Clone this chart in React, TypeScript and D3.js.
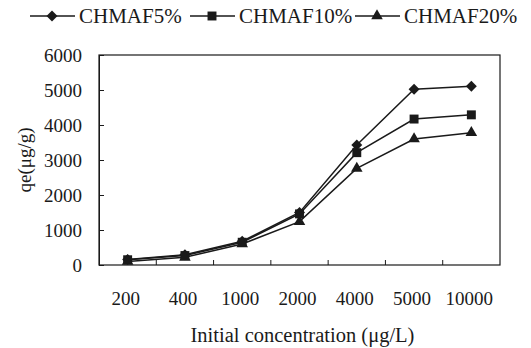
import { useEffect, useRef } from "react"
import * as d3 from "d3"

const categories = ["200", "400", "1000", "2000", "4000", "5000", "10000"]
const chmaf5 = [160, 290, 680, 1500, 3430, 5020, 5110]
const chmaf10 = [150, 270, 650, 1460, 3210, 4170, 4290]
const chmaf20 = [100, 220, 600, 1240, 2760, 3600, 3780]
const seriesNames = ["CHMAF5%", "CHMAF10%", "CHMAF20%"]
const yTicks = [0, 1000, 2000, 3000, 4000, 5000, 6000]

const FONT = "Liberation Serif, DejaVu Serif, serif"

export default function App() {
  const svgRef = useRef<SVGSVGElement>(null)

  useEffect(() => {
    if (!svgRef.current) return
    const svg = d3.select(svgRef.current)
    svg.selectAll("*").remove()

    const margin = { top: 55, right: 31, bottom: 83, left: 99 }
    const width = 531 - margin.left - margin.right
    const height = 348 - margin.top - margin.bottom
    const ink = "#1a1a1a"

    const g = svg.append("g").attr("transform", `translate(${margin.left},${margin.top})`)

    const x = d3.scaleBand().domain(categories).range([0, width])
    const y = d3.scaleLinear().domain([0, 6000]).range([height, 0])

    // 카테고리 경계 눈금
    g.selectAll(".xtick")
      .data(categories.slice(1))
      .enter()
      .append("line")
      .attr("x1", (d) => x(d) as number)
      .attr("x2", (d) => x(d) as number)
      .attr("y1", height)
      .attr("y2", height - 5)
      .attr("stroke", ink)
      .attr("stroke-width", 1)

    g.selectAll(".xlabel")
      .data(categories)
      .enter()
      .append("text")
      .attr("x", (d) => (x(d) as number) + x.bandwidth() / 2 - 2)
      .attr("y", height + 40)
      .attr("text-anchor", "middle")
      .attr("font-family", FONT)
      .attr("font-size", 19)
      .attr("fill", ink)
      .text((d) => d)

    const yAxis = g.append("g").call(
      d3
        .axisLeft(y)
        .tickValues(yTicks)
        .tickFormat(d3.format("d"))
        .tickSize(5)
        .tickSizeOuter(0)
        .tickPadding(12)
    )
    yAxis.attr("font-family", FONT).attr("font-size", 19)
    yAxis.selectAll("line").attr("stroke", ink).attr("transform", "translate(5,0)")
    yAxis.select(".domain").attr("stroke", ink)
    yAxis.selectAll("text").attr("fill", ink).attr("dy", "0.35em")

    // 테두리
    g.append("rect")
      .attr("x", 0)
      .attr("y", 0)
      .attr("width", width)
      .attr("height", height)
      .attr("fill", "none")
      .attr("stroke", ink)
      .attr("stroke-width", 1.2)

    // 축 레이블
    g.append("text")
      .attr("transform", "rotate(-90)")
      .attr("x", -height / 2)
      .attr("y", -68)
      .attr("text-anchor", "middle")
      .attr("font-family", FONT)
      .attr("font-size", 19)
      .attr("fill", ink)
      .text("qe(μg/g)")

    g.append("text")
      .attr("x", width / 2 + 3)
      .attr("y", height + 77)
      .attr("text-anchor", "middle")
      .attr("font-family", FONT)
      .attr("font-size", 20.5)
      .attr("fill", ink)
      .text("Initial concentration (μg/L)")

    const symbols = [d3.symbolSquare, d3.symbolSquare, d3.symbolTriangle]
    const sizes = [60, 80, 58]
    const rotations = [45, 0, 0]
    const allSeries = [chmaf5, chmaf10, chmaf20]

    const line = d3
      .line<number>()
      .x((_, i) => (x(categories[i]) as number) + x.bandwidth() / 2)
      .y((d) => y(d))

    allSeries.forEach((vals, s) => {
      g.append("path")
        .datum(vals)
        .attr("d", line)
        .attr("fill", "none")
        .attr("stroke", ink)
        .attr("stroke-width", 1.5)

      g.selectAll(`.m${s}`)
        .data(vals)
        .enter()
        .append("path")
        .attr("d", d3.symbol(symbols[s], sizes[s])())
        .attr(
          "transform",
          (d, i) =>
            `translate(${(x(categories[i]) as number) + x.bandwidth() / 2},${y(d)}) rotate(${rotations[s]})`
        )
        .attr("fill", ink)
    })

    // 범례
    const legendX = [30, 190, 355]
    const legend = svg.append("g")
    seriesNames.forEach((name, s) => {
      const lx = legendX[s]
      legend
        .append("line")
        .attr("x1", lx)
        .attr("x2", lx + 45)
        .attr("y1", 16)
        .attr("y2", 16)
        .attr("stroke", ink)
        .attr("stroke-width", 1.5)
      legend
        .append("path")
        .attr("d", d3.symbol(symbols[s], sizes[s])())
        .attr("transform", `translate(${lx + 22},16) rotate(${rotations[s]})`)
        .attr("fill", ink)
      legend
        .append("text")
        .attr("x", lx + 49)
        .attr("y", 16)
        .attr("dy", "0.35em")
        .attr("font-family", FONT)
        .attr("font-size", 21)
        .attr("fill", ink)
        .text(name)
    })
  }, [])

  return (
    <svg
      ref={svgRef}
      width={531}
      height={348}
      style={{ position: "absolute", left: 0, top: 0, background: "#fff" }}
    />
  )
}
